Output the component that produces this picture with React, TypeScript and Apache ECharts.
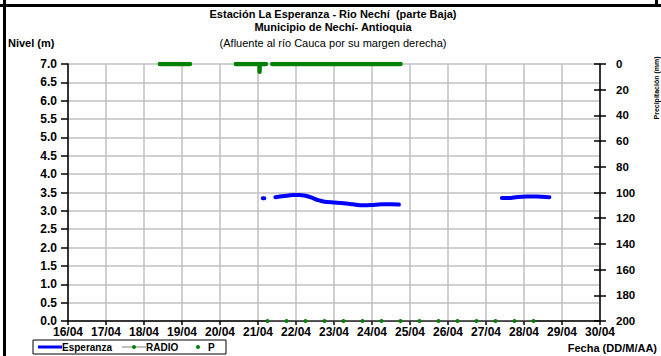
import React, { useEffect, useRef } from "react";
import * as echarts from "echarts";

// ---- Data ----
const dayTickLabels = [
  "16/04", "17/04", "18/04", "19/04", "20/04", "21/04", "22/04", "23/04",
  "24/04", "25/04", "26/04", "27/04", "28/04", "29/04", "30/04",
];

// Esperanza water level (m), three observed runs
const esperanzaRun1: [string, number][] = [
  ["21/04 03:00", 3.34],
  ["21/04 04:00", 3.34],
];
const esperanzaRun2: [string, number][] = [
  ["21/04 11:00", 3.37],
  ["21/04 14:00", 3.39],
  ["21/04 18:00", 3.41],
  ["21/04 22:00", 3.43],
  ["22/04 02:00", 3.43],
  ["22/04 06:00", 3.41],
  ["22/04 10:00", 3.36],
  ["22/04 14:00", 3.29],
  ["22/04 18:00", 3.25],
  ["23/04 00:00", 3.23],
  ["23/04 06:00", 3.21],
  ["23/04 12:00", 3.18],
  ["23/04 18:00", 3.15],
  ["24/04 00:00", 3.16],
  ["24/04 06:00", 3.18],
  ["24/04 12:00", 3.18],
  ["24/04 17:00", 3.17],
];
const esperanzaRun3: [string, number][] = [
  ["27/04 10:00", 3.35],
  ["27/04 14:00", 3.35],
  ["27/04 20:00", 3.38],
  ["28/04 02:00", 3.39],
  ["28/04 08:00", 3.39],
  ["28/04 14:00", 3.38],
  ["28/04 16:00", 3.37],
];

// RADIO readings (m)
const radioTimes = [
  "21/04 06:00", "21/04 18:00", "22/04 06:00", "22/04 18:00", "23/04 06:00",
  "23/04 18:00", "24/04 06:00", "24/04 18:00", "25/04 06:00", "25/04 18:00",
  "26/04 06:00", "26/04 18:00", "27/04 06:00", "27/04 18:00", "28/04 06:00",
];
const radioValues = [0, 0, 0, 0, 0, 0, 0, 0, 0, 0, 0, 0, 0, 0, 0];

// Precipitation P (mm), observed runs of readings
const pRun1: [string, number][] = [
  ["18/04 10:00", 0],
  ["19/04 05:00", 0],
];
const pRun2: [string, number][] = [
  ["20/04 10:00", 0],
  ["21/04 01:00", 0],
  ["21/04 01:00", 6],
  ["21/04 01:00", 0],
  ["21/04 05:00", 0],
];
const pRun3: [string, number][] = [
  ["21/04 09:00", 0],
  ["24/04 18:00", 0],
];

const titleLines = [
  "Estación La Esperanza - Rio Nechí  (parte Baja)",
  "Municipio de Nechí- Antioquia",
  "(Afluente al río Cauca por su margen derecha)",
];
const leftAxisName = "Nivel (m)";
const rightAxisName = "Precipitación (mm)";
const xAxisName = "Fecha (DD/M/AA)";
const legendNames = ["Esperanza", "RADIO", "P"];

// ---- helpers ----
const toDay = (s: string) => {
  const [d, t] = s.split(" ");
  const dd = parseInt(d.split("/")[0], 10);
  const [h, m] = t.split(":").map((v) => parseInt(v, 10));
  return dd + (h + m / 60) / 24;
};
const joinRuns = (runs: [string, number][][]) => {
  const out: any[] = [];
  runs.forEach((run, i) => {
    if (i > 0) out.push([toDay(run[0][0]) - 0.01, "-"]);
    run.forEach(([t, v]) => out.push([toDay(t), v]));
  });
  return out;
};

const FONT = "'Liberation Sans', Arial, sans-serif";

export default function App() {
  const ref = useRef<HTMLDivElement>(null);

  useEffect(() => {
    document.body.style.margin = "0";
    const chart = echarts.init(ref.current!, undefined, { renderer: "svg" });

    const axisLabelStyle = {
      fontFamily: FONT,
      fontWeight: "bold" as const,
      fontSize: 12,
      color: "#000",
    };

    const option: any = {
      animation: false,
      backgroundColor: "#fff",
      grid: { left: 68, right: 61, top: 64, bottom: 35, containLabel: false },
      xAxis: {
        type: "value",
        min: 16,
        max: 30,
        interval: 1,
        axisLine: { lineStyle: { color: "#000", width: 1.5 } },
        axisTick: { show: true, length: 4, lineStyle: { color: "#000", width: 1.5 } },
        axisLabel: {
          ...axisLabelStyle,
          margin: 5,
          formatter: (v: number) => dayTickLabels[Math.round(v - 16)] ?? "",
        },
        splitLine: { show: true, lineStyle: { color: "#c0c0c0", width: 1.5 } },
      },
      yAxis: [
        {
          type: "value",
          min: 0,
          max: 7,
          interval: 0.5,
          position: "left",
          axisLine: { show: true, lineStyle: { color: "#000", width: 1.5 } },
          axisTick: { show: true, length: 7, lineStyle: { color: "#000", width: 1.5 } },
          axisLabel: {
            ...axisLabelStyle,
            margin: 11,
            formatter: (v: number) => v.toFixed(1),
          },
          splitLine: { show: true, lineStyle: { color: "#c0c0c0", width: 1.5 } },
        },
        {
          type: "value",
          min: 0,
          max: 200,
          interval: 20,
          inverse: true,
          position: "right",
          axisLine: { show: true, lineStyle: { color: "#000", width: 1.5 } },
          axisTick: { show: true, length: 6, lineStyle: { color: "#000", width: 1.5 } },
          axisLabel: { ...axisLabelStyle, fontSize: 11.5, margin: 16 },
          splitLine: { show: false },
        },
        {
          type: "value",
          min: 0,
          max: 200,
          interval: 20,
          inverse: true,
          position: "right",
          axisLine: { show: false },
          axisTick: { show: true, inside: true, length: 6, lineStyle: { color: "#000", width: 1.5 } },
          axisLabel: { show: false },
          splitLine: { show: false },
        },
      ],
      series: [
        {
          name: legendNames[0],
          type: "line",
          yAxisIndex: 0,
          data: joinRuns([esperanzaRun1, esperanzaRun2, esperanzaRun3]),
          showSymbol: false,
          symbol: "none",
          smooth: 0.3,
          lineStyle: { color: "#0000ff", width: 4, cap: "round", join: "round" },
          z: 5,
        },
        {
          name: legendNames[1],
          type: "line",
          yAxisIndex: 0,
          data: radioTimes.map((t, i) => [toDay(t), radioValues[i]]),
          symbol: "circle",
          symbolSize: 4,
          itemStyle: { color: "#008000" },
          lineStyle: { color: "#808080", width: 1 },
          z: 6,
        },
        {
          name: legendNames[2],
          type: "line",
          yAxisIndex: 1,
          data: joinRuns([pRun1, pRun2, pRun3]),
          symbol: "none",
          lineStyle: { color: "#008000", width: 4.5, cap: "round", join: "round" },
          z: 6,
        },
      ],
      graphic: [
        // frame pieces
        { type: "rect", shape: { x: 0, y: 4, width: 661, height: 3 }, style: { fill: "#000" } },
        { type: "rect", shape: { x: 3, y: 0, width: 3, height: 356 }, style: { fill: "#000" } },
        { type: "rect", shape: { x: 655, y: 0, width: 3, height: 7 }, style: { fill: "#000" } },
        // titles
        ...titleLines.map((t, i) => ({
          type: "text",
          x: 333,
          y: [14, 27, 43][i],
          style: {
            text: t,
            fill: "#000",
            font: `${i < 2 ? "bold " : ""}11px ${FONT}`,
            textAlign: "center",
            textVerticalAlign: "middle",
          },
        })),
        {
          type: "text",
          x: 8,
          y: 43,
          style: {
            text: leftAxisName,
            fill: "#000",
            font: `bold 11px ${FONT}`,
            textAlign: "left",
            textVerticalAlign: "middle",
          },
        },
        // right axis name, vertical, read bottom to top
        {
          type: "text",
          x: 656,
          y: 88,
          rotation: Math.PI / 2,
          style: {
            text: rightAxisName,
            fill: "#000",
            font: `bold 7px ${FONT}`,
            textAlign: "center",
            textVerticalAlign: "middle",
          },
        },
        {
          type: "text",
          x: 657,
          y: 348,
          style: {
            text: xAxisName,
            fill: "#000",
            font: `bold 11px ${FONT}`,
            textAlign: "right",
            textVerticalAlign: "middle",
          },
        },
        // legend
        {
          type: "rect",
          shape: { x: 33, y: 340, width: 193, height: 14 },
          style: { fill: "#fff", stroke: "#000", lineWidth: 1 },
        },
        { type: "line", shape: { x1: 38, y1: 347, x2: 62, y2: 347 }, style: { stroke: "#0000ff", lineWidth: 3 } },
        {
          type: "text", x: 62, y: 347,
          style: { text: legendNames[0], fill: "#000", font: `bold 10px ${FONT}`, textVerticalAlign: "middle" },
        },
        { type: "line", shape: { x1: 122, y1: 347, x2: 146, y2: 347 }, style: { stroke: "#808080", lineWidth: 1 } },
        { type: "circle", shape: { cx: 134, cy: 347, r: 2 }, style: { fill: "#008000" } },
        {
          type: "text", x: 146, y: 347,
          style: { text: legendNames[1], fill: "#000", font: `bold 10px ${FONT}`, textVerticalAlign: "middle" },
        },
        { type: "circle", shape: { cx: 198, cy: 347, r: 2 }, style: { fill: "#008000" } },
        {
          type: "text", x: 208, y: 347,
          style: { text: legendNames[2], fill: "#000", font: `bold 10px ${FONT}`, textVerticalAlign: "middle" },
        },
      ],
    };

    chart.setOption(option);
    return () => chart.dispose();
  }, []);

  return (
    <div
      ref={ref}
      style={{ position: "fixed", left: 0, top: 0, width: 661, height: 356, background: "#fff" }}
    />
  );
}
